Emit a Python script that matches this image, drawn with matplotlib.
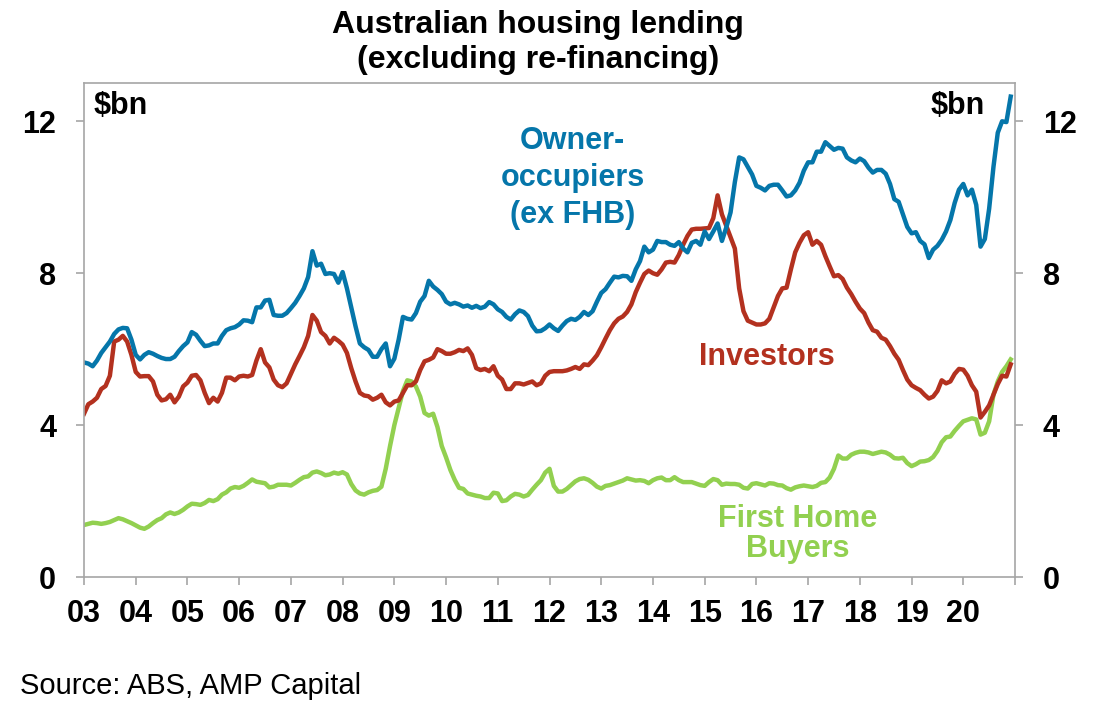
import numpy as np
import matplotlib
matplotlib.use("Agg")
import matplotlib.pyplot as plt

plt.rcParams["font.family"] = ["Liberation Sans", "DejaVu Sans"]

# Monthly lending, $bn, Jan 2003 - Dec 2020 (one row per year)
owner_occupiers = [
    5.65, 5.62, 5.55, 5.70, 5.90, 6.05, 6.20, 6.40, 6.52, 6.56, 6.55, 6.25,
    5.85, 5.73, 5.85, 5.92, 5.88, 5.82, 5.77, 5.74, 5.74, 5.80, 5.95, 6.08,
    6.18, 6.45, 6.38, 6.22, 6.08, 6.10, 6.15, 6.15, 6.35, 6.50, 6.55, 6.58,
    6.65, 6.76, 6.75, 6.71, 7.10, 7.10, 7.28, 7.30, 6.90, 6.88, 6.88, 6.95,
    7.08, 7.22, 7.40, 7.60, 7.90, 8.58, 8.20, 8.25, 7.98, 8.00, 7.98, 7.75,
    8.03, 7.60, 7.10, 6.60, 6.15, 6.05, 5.98, 5.80, 5.80, 6.00, 6.15, 5.55,
    5.75, 6.25, 6.85, 6.80, 6.78, 6.95, 7.25, 7.40, 7.80, 7.65, 7.56, 7.45,
    7.25, 7.18, 7.22, 7.18, 7.12, 7.15, 7.09, 7.14, 7.08, 7.12, 7.24, 7.18,
    7.05, 6.98, 6.85, 6.78, 6.92, 7.02, 6.98, 6.87, 6.62, 6.47, 6.48, 6.55,
    6.65, 6.55, 6.48, 6.62, 6.74, 6.80, 6.77, 6.85, 6.98, 6.90, 7.00, 7.25,
    7.48, 7.58, 7.75, 7.91, 7.89, 7.93, 7.92, 7.80, 8.10, 8.32, 8.70, 8.55,
    8.62, 8.85, 8.82, 8.82, 8.75, 8.72, 8.82, 8.65, 8.55, 8.80, 8.85, 8.75,
    9.10, 8.90, 9.10, 9.31, 8.85, 9.20, 9.60, 10.40, 11.05, 11.00, 10.80, 10.60,
    10.30, 10.25, 10.18, 10.30, 10.33, 10.33, 10.18, 10.02, 10.05, 10.18, 10.38, 10.70,
    10.92, 10.92, 11.20, 11.20, 11.45, 11.35, 11.25, 11.30, 11.28, 11.05, 10.97, 10.92,
    11.02, 10.95, 10.78, 10.65, 10.72, 10.72, 10.62, 10.35, 9.95, 9.88, 9.55, 9.22,
    9.05, 9.08, 8.85, 8.76, 8.40, 8.62, 8.72, 8.88, 9.10, 9.40, 9.85, 10.20,
    10.35, 10.05, 10.20, 9.80, 8.70, 8.90, 9.70, 10.80, 11.70, 12.00, 11.98, 12.65,
]

investors = [
    4.30, 4.55, 4.62, 4.72, 4.95, 5.03, 5.30, 6.20, 6.25, 6.35, 6.20, 5.85,
    5.40, 5.28, 5.29, 5.29, 5.15, 4.80, 4.65, 4.68, 4.80, 4.60, 4.75, 5.02,
    5.12, 5.30, 5.32, 5.18, 4.85, 4.58, 4.72, 4.62, 4.85, 5.25, 5.25, 5.18,
    5.28, 5.30, 5.28, 5.32, 5.70, 6.00, 5.65, 5.52, 5.20, 5.05, 5.00, 5.10,
    5.35, 5.60, 5.82, 6.05, 6.35, 6.90, 6.75, 6.45, 6.35, 6.15, 6.30, 6.22,
    6.12, 5.90, 5.50, 5.15, 4.85, 4.78, 4.76, 4.67, 4.72, 4.80, 4.60, 4.52,
    4.62, 4.65, 4.85, 5.05, 5.05, 5.15, 5.45, 5.68, 5.72, 5.78, 6.00, 5.95,
    5.88, 5.88, 5.92, 5.98, 5.95, 6.02, 5.85, 5.50, 5.45, 5.48, 5.42, 5.55,
    5.30, 5.20, 4.95, 4.95, 5.10, 5.10, 5.07, 5.11, 5.15, 5.05, 5.10, 5.30,
    5.40, 5.42, 5.42, 5.42, 5.44, 5.48, 5.53, 5.48, 5.60, 5.58, 5.70, 5.84,
    6.05, 6.28, 6.50, 6.68, 6.80, 6.86, 6.98, 7.18, 7.50, 7.75, 7.98, 8.07,
    8.00, 7.96, 8.10, 8.28, 8.30, 8.28, 8.48, 8.75, 8.98, 9.15, 9.17, 9.17,
    9.18, 9.19, 9.45, 10.05, 9.55, 9.25, 8.95, 8.65, 7.60, 7.00, 6.75, 6.70,
    6.65, 6.65, 6.68, 6.80, 7.10, 7.40, 7.60, 7.62, 8.10, 8.55, 8.80, 9.00,
    9.08, 8.75, 8.85, 8.75, 8.45, 8.18, 7.92, 7.95, 7.85, 7.62, 7.45, 7.25,
    7.07, 6.95, 6.70, 6.50, 6.46, 6.30, 6.25, 6.08, 5.88, 5.72, 5.45, 5.20,
    5.05, 4.98, 4.92, 4.80, 4.70, 4.75, 4.90, 5.18, 5.10, 5.15, 5.35, 5.48,
    5.46, 5.30, 5.05, 4.88, 4.20, 4.35, 4.52, 4.80, 5.08, 5.30, 5.28, 5.60,
]

first_home_buyers = [
    1.37, 1.40, 1.43, 1.42, 1.40, 1.42, 1.45, 1.50, 1.55, 1.52, 1.47, 1.42,
    1.36, 1.30, 1.27, 1.33, 1.42, 1.50, 1.55, 1.65, 1.70, 1.66, 1.70, 1.77,
    1.86, 1.93, 1.92, 1.90, 1.95, 2.03, 2.00, 2.05, 2.17, 2.23, 2.33, 2.37,
    2.35, 2.40, 2.48, 2.57, 2.51, 2.49, 2.47, 2.36, 2.38, 2.43, 2.43, 2.43,
    2.41, 2.48, 2.56, 2.63, 2.65, 2.75, 2.78, 2.74, 2.68, 2.70, 2.75, 2.72,
    2.76, 2.70, 2.45, 2.28, 2.20, 2.17, 2.23, 2.27, 2.29, 2.38, 2.85, 3.45,
    4.00, 4.45, 4.90, 5.18, 5.15, 5.02, 4.75, 4.32, 4.25, 4.30, 3.95, 3.45,
    3.15, 2.82, 2.56, 2.35, 2.32, 2.20, 2.17, 2.14, 2.12, 2.08, 2.08, 2.22,
    2.20, 2.00, 2.02, 2.12, 2.19, 2.17, 2.12, 2.16, 2.30, 2.43, 2.55, 2.75,
    2.85, 2.40, 2.25, 2.25, 2.32, 2.42, 2.52, 2.58, 2.60, 2.56, 2.48, 2.38,
    2.33, 2.40, 2.42, 2.46, 2.50, 2.54, 2.60, 2.57, 2.54, 2.55, 2.53, 2.47,
    2.55, 2.60, 2.62, 2.55, 2.55, 2.63, 2.55, 2.50, 2.50, 2.50, 2.46, 2.42,
    2.40, 2.50, 2.58, 2.55, 2.43, 2.46, 2.45, 2.45, 2.43, 2.35, 2.33, 2.45,
    2.47, 2.44, 2.41, 2.47, 2.46, 2.42, 2.41, 2.34, 2.30, 2.36, 2.39, 2.41,
    2.39, 2.37, 2.40, 2.48, 2.50, 2.62, 2.85, 3.20, 3.12, 3.12, 3.22, 3.27,
    3.30, 3.30, 3.28, 3.24, 3.27, 3.30, 3.28, 3.22, 3.13, 3.12, 3.14, 3.00,
    2.92, 2.97, 3.04, 3.05, 3.08, 3.16, 3.32, 3.55, 3.68, 3.70, 3.85, 3.98,
    4.10, 4.14, 4.18, 4.15, 3.75, 3.80, 4.10, 4.80, 5.15, 5.40, 5.55, 5.73,
]

years = list(range(2003, 2022))
year_labels = ["03", "04", "05", "06", "07", "08", "09", "10", "11", "12",
               "13", "14", "15", "16", "17", "18", "19", "20", ""]
y_ticks = [0, 4, 8, 12]

blue = "#0576AA"
red = "#B3311F"
green = "#92D050"
grey = "#A6A6A6"

# x position of each month as a decimal year
t = 2003 + np.arange(len(owner_occupiers)) / 12.0

fig = plt.figure(figsize=(10.94, 7.24), dpi=100)
ax = fig.add_axes([0.0768, 0.2030, 0.8510, 0.6819])

ax.plot(t, first_home_buyers, color=green, lw=3.2, solid_joinstyle="round")
ax.plot(t, investors, color=red, lw=3.2, solid_joinstyle="round")
ax.plot(t, owner_occupiers, color=blue, lw=3.2, solid_joinstyle="round")

ax.set_xlim(2003, 2021)
ax.set_ylim(0, 13)
ax.set_xticks(years)
ax.set_xticklabels(year_labels)
ax.set_yticks(y_ticks)

for s in ax.spines.values():
    s.set_color(grey)
    s.set_linewidth(1.2)

ax.tick_params(axis="x", direction="out", length=6, width=1.2, color=grey,
               pad=10, labelsize=22)
ax.tick_params(axis="y", direction="out", length=6, width=1.2, color=grey,
               pad=14, labelsize=22, right=True, labelright=True)
for lab in ax.get_xticklabels() + ax.get_yticklabels():
    lab.set_fontweight("bold")

# units
ax.text(0.010, 0.954, "$bn", transform=ax.transAxes, fontsize=22,
        fontweight="bold", ha="left", va="center")
ax.text(0.968, 0.954, "$bn", transform=ax.transAxes, fontsize=22,
        fontweight="bold", ha="right", va="center")

# series labels
ax.text(2012.45, 10.5, "Owner-\noccupiers\n(ex FHB)", color=blue, fontsize=22,
        fontweight="bold", ha="center", va="center", linespacing=1.3)
ax.text(2016.2, 5.8, "Investors", color=red, fontsize=22,
        fontweight="bold", ha="center", va="center")
ax.text(2016.8, 1.13, "First Home\nBuyers", color=green, fontsize=22,
        fontweight="bold", ha="center", va="center", linespacing=0.98)

fig.text(0.492, 1 - 33 / 724, "Australian housing lending", fontsize=23,
         fontweight="bold", ha="center", va="baseline")
fig.text(0.492, 1 - 68 / 724, "(excluding re-financing)", fontsize=23,
         fontweight="bold", ha="center", va="baseline")

fig.text(20 / 1094, 1 - 686 / 724, "Source: ABS, AMP Capital", fontsize=21,
         ha="left", va="center")

fig.savefig("out.png", dpi=100)
